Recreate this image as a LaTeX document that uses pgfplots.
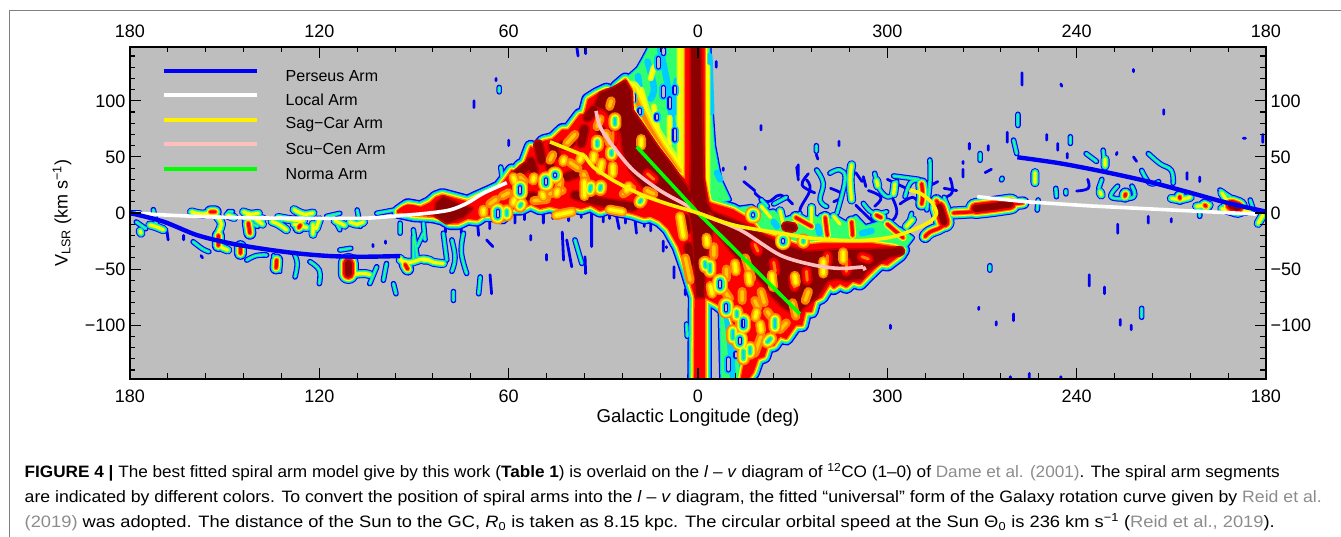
\documentclass[border=0pt]{standalone}
\usepackage{pgfplots}
\usepackage{pgfplotstable}
\usepackage{graphicx}
\usepackage{fontspec}
\setmainfont{Liberation Sans}
\pgfplotsset{compat=1.18}
\definecolor{bg}{RGB}{190,190,190}
\definecolor{cB}{RGB}{0,0,245}
\definecolor{cC}{RGB}{0,205,255}
\definecolor{cG}{RGB}{50,255,110}
\definecolor{cL}{RGB}{200,255,40}
\definecolor{cY}{RGB}{255,255,0}
\definecolor{cA}{RGB}{255,200,0}
\definecolor{cO}{RGB}{255,130,0}
\definecolor{cR}{RGB}{255,0,0}
\definecolor{cM}{RGB}{200,0,0}
\definecolor{cD}{RGB}{139,0,0}
\definecolor{cite}{RGB}{140,140,140}
% ---------- emission: main body (red zone outline)
\pgfplotstableread[row sep=\\]{x y\\
95 1\\ 92 7\\ 88 5\\ 85 9\\ 83 14\\ 81 16\\ 77 13\\ 73 10\\ 70 14\\ 66 19\\ 63 23\\ 60.5 32\\ 59 38\\ 58 35\\ 56.4 42\\ 55 44\\ 53 59\\ 51.5 56\\ 49 64\\ 46 66\\ 43 74\\ 41 74\\ 37.4 87.5\\ 36 88\\ 34.8 101\\ 32 106\\ 29 110\\ 27 107\\ 25.7 112.5\\ 23 119\\ 21 110\\ 21 92\\ 17.4 77\\ 13 59\\ 9 44\\ 6.7 35\\ 4 30\\ 4 150\\ -2 150\\ -2 30\\ -3.5 10\\ -4.3 8.6\\ -11 3\\ -16.5 -6\\ -19.6 -17\\ -26 -23\\ -32 -29\\ -40 -27\\ -47 -27\\ -54.5 -27\\ -62 -30\\ -65 -33\\ -64 -37.5\\ -60 -46\\ -58 -45\\ -56.6 -48\\ -53 -58\\ -51.3 -63\\ -49 -61\\ -47 -66\\ -45 -63\\ -43 -67\\ -41.8 -63\\ -39.2 -75\\ -37 -78\\ -36 -88\\ -34 -88\\ -33 -100\\ -31 -100\\ -28 -112\\ -26 -110\\ -24 -118\\ -22 -119\\ -21 -128\\ -19 -130\\ -17.5 -142\\ -15.5 -150\\ -13.5 -150\\ -15 -128\\ -13.3 -119\\ -12.3 -107\\ -10.1 -90\\ -6 -81\\ -2.2 -75.3\\ -2.2 -150\\ 1.2 -150\\ 1 -75\\ 2 -66\\ 3.6 -51\\ 6.2 -30\\ 9.4 -14\\ 12 -7\\ 15 -3\\ 17 -4\\ 20.5 -0.6\\ 23 1\\ 25.8 2.4\\ 28 5\\ 31 2\\ 34 6.8\\ 37 4\\ 40 6\\ 43.7 3.8\\ 47 6\\ 50 4\\ 53 8\\ 56 4\\ 60 4\\ 62 -4\\ 65 -2\\ 68 -2\\ 70 -6\\ 73 -5\\ 76 -9\\ 78.6 -9\\ 81 -5\\ 84 -3\\ 90 -2\\ 95 1\\
}\tBody
% green-level zones
\pgfplotstableread[row sep=\\]{x y\\
23 119\\ 19 129\\ 17 139\\ 15 150\\ 4 150\\ 4 30\\ 6.7 35\\ 13 59\\ 21 92\\ 23 119\\ nan nan\\
-2 150\\ -3.5 150\\ -4 100\\ -5 60\\ -7 30\\ -10 12\\ -4 8\\ -2 40\\ -2 150\\ nan nan\\
-3.5 -75\\ -7 -85\\ -7.5 -150\\ -16 -150\\ -13 -119\\ -12 -107\\ -10 -90\\ -6 -80\\ -3.5 -75\\ nan nan\\
-12 4\\ -17 6\\ -20 0\\ -24 2\\ -27 -6\\ -30 -3\\ -33 -8\\ -36 -2\\ -40 -7\\ -44 -4\\ -47 -9\\ -50 -3\\ -53 -12\\ -58 -8\\ -61 -15\\ -64 -14\\ -68 -22\\ -65 -33\\ -20 -25\\ -12 4\\
}\tWedge
% cyan patches in the green zone
\pgfplotstableread[row sep=\\]{x y\\
12 146\\ 10 120\\ 9 100\\ 8 78\\ nan nan\\ 16 135\\ 14 112\\ 15 102\\ nan nan\\ 19 122\\ 18.5 112\\ nan nan\\ -3.6 140\\ -4.2 90\\ nan nan\\ -6 36\\ -7 30\\ nan nan\\ 6.8 118\\ 7 90\\ nan nan\\ -9 -90\\ -10 -110\\ -11 -145\\ nan nan\\ -14 -135\\ -15 -146\\ nan nan\\ -24 -8\\ -25 -12\\ nan nan\\ -38 -12\\ -38.5 -18\\ nan nan\\ -52 -18\\ -55 -16\\ nan nan\\
}\tWcy
% dark-red areas
\pgfplotstableread[row sep=\\]{x y\\
26.8 111\\ 23.1 117\\ 21.3 108\\ 21 91.6\\ 17.3 76.8\\ 13 59\\ 8.9 44\\ 3.6 23\\ 0 2.4\\ 7.8 8.3\\ 12 12.8\\ 17.3 23.2\\ 21.5 38\\ 23.7 56\\ 24.2 70.8\\ 26.3 79.8\\ 29 91.7\\ 32.6 96\\ 31 106.5\\ 26.8 111\\ nan nan\\
2 150\\ 2 50\\ 2.5 -0.3\\ 1.5 -18\\ 1 -48\\ 0.4 -75\\ -1.7 -75\\ -2.2 -42\\ -4.3 -18\\ -6 -6\\ -2.7 8.6\\ -1.6 30\\ -0.6 150\\ 2 150\\ nan nan\\
-2.7 2.7\\ -13.3 -9\\ -26 -28\\ -34.4 -35\\ -45 -33\\ -55 -33\\ -61 -32\\ -62.4 -36\\ -57.7 -43.5\\ -53 -52\\ -52 -58\\ -47 -60\\ -44 -58\\ -41 -60\\ -37.6 -75\\ -33.4 -84\\ -31.3 -91\\ -27 -83.6\\ -23.9 -75\\ -20.7 -63\\ -16.5 -51\\ -11.2 -36\\ -7 -21\\ -3.8 -3\\ -2.7 2.7\\ nan nan\\
83.3 -1.8\\ 82.8 8.6\\ 80.7 14\\ 77.5 10\\ 74.3 5.6\\ 71.7 4\\ 74.3 -3\\ 79.6 -8.6\\ 83.3 -1.8\\
}\tDark
% dark streaks inside the body
\pgfplotstableread[row sep=\\]{x y\\
50.6 61\\ 49.5 47\\ nan nan\\ 41.6 32\\ 37.4 36.6\\ nan nan\\ 39 16\\ 31 10\\ 20.5 5.5\\ nan nan\\ 58 33\\ 54 42\\ nan nan\\ 45 52\\ 46 60\\ nan nan\\ 37 62\\ 36 75\\ nan nan\\ 35 85\\ 33 92\\ nan nan\\ 53 46\\ 52 38\\ nan nan\\ 46 38\\ 47 42\\ nan nan\\ 56 14\\ 52 15\\ nan nan\\ 43 60\\ 40 63\\ nan nan\\ 31 75\\ 30 68\\ nan nan\\
-28 -12\\ -30 -13\\ nan nan\\ -64 -34\\ -60 -36\\ nan nan\\ 4 -5\\ 3.5 -15\\ nan nan\\ 3 -30\\ 2.5 -45\\ nan nan\\
}\tStreak
% orange blotches
\pgfplotstableread[row sep=\\]{x y\\
46.9 47\\ 46 52\\ nan nan\\ 56.4 32\\ 55 28\\ nan nan\\ 52 11\\ 48 12\\ nan nan\\ 40.5 45\\ 38 40\\ nan nan\\ 43.7 29\\ 44 24\\ nan nan\\ 36.3 35\\ 35 25\\ nan nan\\ 32 77\\ 31 84\\ nan nan\\ 29 71\\ 28 62\\ nan nan\\ 28 95\\ 27.5 100\\ nan nan\\ 41.6 62\\ 39 70\\ nan nan\\ 47 17\\ 43 20\\ nan nan\\ 23.7 17\\ 21 22\\ nan nan\\ 16.2 20\\ 14 17\\ nan nan\\ 62 15\\ 60 18\\ nan nan\\ 66 8\\ 64 12\\ nan nan\\
-5 -30\\ -5 -38\\ nan nan\\ -9 -50\\ -9 -58\\ nan nan\\ -14 -70\\ -14 -78\\ nan nan\\ -18 -78\\ -19 -84\\ nan nan\\ -22 -88\\ -23 -92\\ nan nan\\ -28 -98\\ -26 -104\\ nan nan\\ -15 -40\\ -17 -58\\ nan nan\\ -20 -70\\ -21 -80\\ nan nan\\ -30 -80\\ -31 -92\\ nan nan\\ -8 -68\\ -10 -76\\ nan nan\\ -20 -110\\ -18 -125\\ nan nan\\ -35 -70\\ -34 -78\\ nan nan\\ 4 -40\\ 2.5 -60\\ nan nan\\
}\tOrg
% red blotches inside the dark area
\pgfplotstableread[row sep=\\]{x y\\
-30.2 -58\\ -30.6 -66\\ nan nan\\ -34.4 -52\\ -34.6 -60\\ nan nan\\ -24 -44\\ -24.5 -52\\ nan nan\\ -47 -44\\ -47 -52\\ nan nan\\ -52 -39\\ -54 -41\\ nan nan\\ -41 -38\\ -41 -44\\ nan nan\\ -18 -28\\ -19 -34\\ nan nan\\ 27 64\\ 27 72\\ nan nan\\ 16 35\\ 14 30\\ nan nan\\
}\tRedsp
% ridges, by peak level
\pgfplotstableread[row sep=\\]{x y\\
-88 4\\ -93 5.6\\ -99 8\\ nan nan\\ -76.5 5\\ -78 -8\\ nan nan\\ 110.8 -45\\ 110.8 -54\\ nan nan\\ -169 7\\ -171 5\\
}\tTfour
\pgfplotstableread[row sep=\\]{x y\\
-30.2 -15\\ -30.5 -10\\ nan nan\\ -40.3 -4\\ -41 -20\\ nan nan\\ -48.7 -8\\ -49 -20\\ nan nan\\ -56.6 -2\\ -58 -4\\ nan nan\\
-70.9 26\\ -71.2 16\\ -70.9 8\\ nan nan\\ -75.6 11\\ -78 -9\\ -73.5 -17\\ -72 -21\\ nan nan\\ -81 0\\ -87 1\\ nan nan\\ -99 8\\ -103 9\\ nan nan\\
154.5 1\\ 153 1\\ nan nan\\ 152 -20\\ 152 -29\\ nan nan\\ 145 -30\\ 145 -36\\ nan nan\\ 142.5 -9\\ 142 -18\\ nan nan\\ 133.5 -42\\ 133.7 -49\\ nan nan\\
126 -11\\ 126.5 -13\\ nan nan\\ 110.3 -42\\ 110.8 -56\\ nan nan\\ 95 1\\ 92 6\\ 88 4\\ nan nan\\ -135.3 15\\ -135.5 17\\ nan nan\\ -152.7 13\\ -152.7 14.5\\ nan nan\\
-168 7\\ -172 4\\ nan nan\\ -160.6 7\\ -161 6\\ nan nan\\ 92.8 -46\\ 92 -50\\ nan nan\\ -31 -4\\ -36 -12\\ nan nan\\ -60 -10\\ -65 -22\\ nan nan\\
}\tTthree
\pgfplotstableread[row sep=\\]{x y\\
173.7 -10.7\\ 172 -12\\ 169.4 -15\\ nan nan\\ 176.8 -16\\ 176.5 -18\\ nan nan\\ 160.5 1\\ 157 -1\\ 153.6 1\\ nan nan\\ 152.5 -3\\ 151 -10\\ 152 -18\\ 152 -28\\ 149 -33\\ nan nan\\
144 1\\ 142 -1\\ 139.3 -0.3\\ nan nan\\ 135 -7.7\\ 133 -10\\ 130.4 -15\\ nan nan\\ 128 3\\ 125 -1\\ 122 0\\ nan nan\\ 128 -10\\ 124 -13\\ nan nan\\ 122 -10\\ 122 -19\\ nan nan\\ 110.3 -8\\ 108 -10\\ 106 -8\\ nan nan\\
133 -4\\ 129 -6\\ 125 -7\\ nan nan\\ 120 -6\\ 121 -14\\ nan nan\\ 115 -7\\ 112 -11\\ nan nan\\ 143 -3\\ 140 -5\\ 138 -5\\ nan nan\\ 149 -2\\ 147 -4\\ nan nan\\
110 -55\\ 106 -54\\ 104 -55\\ nan nan\\ 94.4 -40.5\\ 91.8 -51\\ nan nan\\ 87 -42\\ 85 -42\\ nan nan\\ 94.4 -42\\ 91.2 -44\\ 87 -41\\ 83.8 -44\\ 80.7 -45\\ nan nan\\
-48.7 43\\ -48.2 30\\ -48.7 11.6\\ nan nan\\ -56.6 29\\ -57 24\\ nan nan\\ -62.4 26\\ -62 17\\ nan nan\\ -106.8 36\\ -106.8 27\\ nan nan\\ -127.4 19\\ -127.8 16\\ nan nan\\ -129 48\\ -129 42\\ nan nan\\
-150 13\\ -153 12\\ -156 14\\ nan nan\\ -158 6\\ -162 7\\ nan nan\\ -166 18\\ -167.5 11.6\\ nan nan\\ -179 -2\\ -177.5 -9.3\\ nan nan\\ -166 4\\ -170 1\\ -175 2\\ nan nan\\ 92 3\\ 86 6\\ nan nan\\ 138 -10\\ 140 -6\\ nan nan\\
-43 -3\\ -45 -10\\ nan nan\\ -66 -12\\ -68 -6\\ nan nan\\ -20 6\\ -23 -4\\ nan nan\\ -26 2\\ -27 -10\\ nan nan\\ -36 5\\ -36 -8\\ nan nan\\
}\tTtwo
\pgfplotstableread[row sep=\\]{x y\\
180 0\\ 176.8 0\\ nan nan\\ 172.6 3\\ 171.5 -12\\ nan nan\\ 178 -8\\ 175 -14\\ nan nan\\ 160 -25.6\\ 157 -32\\ 155 -34.5\\ nan nan\\ 148.8 1.2\\ 147.5 1.2\\ nan nan\\ 144 -5\\ 141 -10\\ 139.5 -12\\ nan nan\\
143 -42\\ 140 -38\\ 136.7 -37.5\\ nan nan\\ 134.5 -38\\ 132.5 -52\\ nan nan\\ 128 -36\\ 127 -45\\ 127.7 -57\\ nan nan\\ 123 -43.4\\ 120 -51\\ 120 -63\\ nan nan\\ 117.7 -3\\ 113.5 -0.3\\ nan nan\\ 115.6 -3\\ 113.5 -15\\ nan nan\\
108 2.7\\ 107 -12\\ nan nan\\ 113.5 -33\\ 110 -31.5\\ nan nan\\ 98.7 -45\\ 99.7 -60\\ nan nan\\ 96.5 -63\\ 95.7 -72\\ nan nan\\ 101.8 -48\\ 104 -63\\ nan nan\\ 90.2 -21\\ 90.2 -42\\ nan nan\\ 94.4 -9\\ 94.4 -18\\ nan nan\\
87 -9\\ 86.5 -24\\ nan nan\\ 101.8 -0.3\\ 95.5 3\\ nan nan\\ 90.2 -15\\ 89 -39\\ nan nan\\ 87 -18\\ 89 -30\\ nan nan\\ 80.7 -18\\ 79.6 -42\\ nan nan\\ 78 -24\\ 77 -40\\ 78 -52\\ nan nan\\ 77.5 -70\\ 77.5 -78\\ nan nan\\ 74.3 -18\\ 75 -35\\ 73.3 -54\\ nan nan\\ 69 -57\\ 69.5 -72\\ nan nan\\
39 -24\\ 36.8 -45\\ nan nan\\ 62.5 41\\ 62 29.5\\ nan nan\\ 63 112\\ 63 108\\ nan nan\\ -24 8\\ -28 14\\ nan nan\\ -20 12\\ -22 6\\ nan nan\\
-37.6 38.4\\ -39.7 26.5\\ -38.7 11.6\\ -40.8 5.7\\ nan nan\\ -41.8 35.4\\ -45 38.4\\ -46.6 29.5\\ -44 -0.3\\ nan nan\\ -56 35.4\\ -57.7 20.5\\ -60.9 14.6\\ -63 28\\ nan nan\\ -65.6 14.6\\ -67.2 26.5\\ -69.3 29.5\\ nan nan\\ -67.7 -0.3\\ -66.1 -15\\ nan nan\\ -73.5 47.3\\ -73.5 26.5\\ -72.5 2.7\\ nan nan\\ -78 14\\ -79.5 4\\ nan nan\\ -52.4 8.6\\ -55.6 -0.3\\ -59.8 1.2\\ nan nan\\ -26.5 -0.3\\ -29.2 -12\\ -32.3 -0.3\\ nan nan\\ -39 -2\\ -36.5 -12\\ nan nan\\
-89.4 53\\ -89.4 47\\ nan nan\\ -96.2 29.5\\ -96.4 31\\ nan nan\\ -100 65\\ -101 53\\ nan nan\\ -107.8 11.6\\ -107.5 2.6\\ nan nan\\ -113.4 22\\ -113.6 14.5\\ nan nan\\ -116.6 17\\ -116.6 20\\ nan nan\\ -127 22\\ -128 30\\ nan nan\\ -133 24\\ -131 14\\ -138 14\\ -137.5 24\\ nan nan\\ -123 53\\ -126.3 46\\ nan nan\\ -128.4 56\\ -129 40\\ nan nan\\ -118 68\\ -118 62\\ nan nan\\ -140.6 38\\ -143.2 26.5\\ -146 28\\ nan nan\\ -142.7 53\\ -146.4 44\\ -150 38\\ -150.6 26.5\\ nan nan\\ -159 4\\ -159 -3\\ nan nan\\ -165.4 20.5\\ -170 12\\ nan nan\\ -175 11.6\\ -176 3\\ nan nan\\ -101.4 88\\ -101.4 78\\ nan nan\\ -92.5 -47\\ -92.5 -51\\ nan nan\\ -140.6 -85\\ -140.6 -93\\ nan nan\\ -37.5 60\\ -37.5 55\\ nan nan\\ 3.6 -99\\ 3.4 -110\\ nan nan\\ -70 30\\ -62 33\\ nan nan\\
}\tTone
\pgfplotstableread[row sep=\\]{x y\\
168.4 -14\\ 167.9 -24\\ nan nan\\ 163 -20\\ 163 -24\\ nan nan\\ 157 -40\\ 157.5 -38\\ nan nan\\ 99 -25\\ 99 -27\\ nan nan\\ 103 -28\\ 103 -30\\ nan nan\\ 43 -17\\ 42.6 -42\\ nan nan\\ 41.6 -24\\ 40 -48\\ nan nan\\ 35.8 -39\\ 35.6 -54\\ nan nan\\ 33.7 -0.3\\ 33.7 -30\\ nan nan\\ 53 -20\\ 53 -24\\ nan nan\\ 48 -37\\ 48 -42\\ nan nan\\ 65.9 -55\\ 65.4 -72\\ nan nan\\ 70 -5\\ 69.5 -20\\ nan nan\\ 67 -24\\ 65 -30\\ nan nan\\ 38.4 148\\ 38 140\\ nan nan\\ 35.7 148\\ 35.6 142\\ nan nan\\ 71 100\\ 71 94\\ nan nan\\ 60 65\\ 60 60\\ nan nan\\ 64 120\\ 64 118\\ nan nan\\
58 2\\ 58 -9\\ nan nan\\ 55 2\\ 55 -6\\ nan nan\\ 49 2\\ 49 -9\\ nan nan\\ 46 2\\ 46 -5\\ nan nan\\ 41 2\\ 41 -7\\ nan nan\\ 37 2\\ 37 -4\\ nan nan\\ 30 0\\ 30 -8\\ nan nan\\ 28 2\\ 28 -5\\ nan nan\\ 23 -1\\ 23 -9\\ nan nan\\ 17 -5\\ 17 -12\\ nan nan\\ 15 -6\\ 15 -16\\ nan nan\\ 75 -10\\ 75 -18\\ nan nan\\ 80 -8\\ 80 -17\\ nan nan\\ 66 -6\\ 66 -14\\ nan nan\\
-35 35\\ -33 25\\ -37 18\\ nan nan\\ -42 22\\ -46 16\\ -43 10\\ nan nan\\ -50 36\\ -52 28\\ nan nan\\ -54 20\\ -58 14\\ -56 6\\ nan nan\\ -60 30\\ -66 22\\ nan nan\\ -64 8\\ -68 14\\ -70 8\\ nan nan\\ -72 22\\ -76 28\\ nan nan\\ -78 22\\ -82 20\\ nan nan\\
7.6 -48\\ 7.6 -58\\ nan nan\\ 4 -68\\ 4 -73\\ nan nan\\ 11 -25\\ 11 -34\\ nan nan\\ 20 -4\\ 19.5 -18\\ nan nan\\ 26 0\\ 25 -14\\ nan nan\\ 10 -30\\ 10 -31\\ nan nan\\ -5.8 135\\ -5.8 130\\ nan nan\\ -20 78\\ -20 74\\ nan nan\\ -15 41\\ -15 39\\ nan nan\\ -31.3 41\\ -31.8 29.5\\ nan nan\\ -34.4 29.5\\ -35.5 20.5\\ -32.3 2.7\\ -33.4 -6\\ nan nan\\ -52.4 32.4\\ -53.2 23.5\\ nan nan\\ -61.4 14.6\\ -63 -0.3\\ -59.8 -12\\ -57.7 -18\\ nan nan\\ -79.9 31\\ -80.4 17.6\\ -75.6 11.6\\ nan nan\\ -50 7\\ -54 -4\\ -57 -12\\ nan nan\\ -18 18\\ -22 10\\ -26 16\\ -30 8\\ nan nan\\ -44.7 64\\ -44.7 60\\ nan nan\\ -37.5 52\\ -38 48\\ nan nan\\ -31.8 43\\ -31.8 33\\ nan nan\\ -14.5 28\\ -18 20\\ nan nan\\ -8 40\\ -8 38\\ nan nan\\
-84 46\\ -84 44\\ nan nan\\ -86 62\\ -86 57\\ nan nan\\ -92 60\\ -92 56\\ nan nan\\ -98 63\\ -98 72\\ nan nan\\ -102.7 125\\ -102.7 114\\ nan nan\\ -115 115\\ -115.3 113\\ nan nan\\ -138 128\\ -138 126\\ nan nan\\ -147.6 92\\ -147.6 88\\ nan nan\\ -110.5 70\\ -110.5 65\\ nan nan\\ -114 62\\ -114 56\\ nan nan\\ -117 53\\ -117 49\\ nan nan\\ -120 19.6\\ -123.7 22\\ -123.5 30\\ nan nan\\ -132.6 52\\ -132.8 54\\ nan nan\\ -172.8 66.6\\ -173.5 66.6\\ nan nan\\ -179 70\\ -179 63\\ nan nan\\ -84 39\\ -84 32\\ nan nan\\ -91 36\\ -93 39\\ nan nan\\ -138 50\\ -139 46\\ nan nan\\ -155 36\\ -155 30\\ nan nan\\ -159 32\\ -159 28\\ nan nan\\ -142.7 -3\\ -142.7 -9\\ nan nan\\ -150 -5\\ -150 -8\\ nan nan\\ -133 -10\\ -133 -18\\ nan nan\\ -89 -84\\ -89 -86\\ nan nan\\ -94.5 -97\\ -94.5 -100\\ nan nan\\ -100 -90\\ -100 -96\\ nan nan\\ -133.8 -95\\ -133.8 -100\\ nan nan\\ -124 -55\\ -124 -65\\ nan nan\\ -128.8 -66\\ -128.8 -72\\ nan nan\\ -61 -100\\ -61 -103\\ nan nan\\ -137.3 -100\\ -137.3 -104\\ nan nan\\ -115 -146\\ -115 -148\\ nan nan\\ -105 -143\\ -105 -148\\ nan nan\\ -99 -146\\ -99 -148\\ nan nan\\
}\tTzero
% low spots inside the body
\pgfplotstableread[row sep=\\]{x y\\
42.7 45.5\\ 42.5 48\\ nan nan\\ 33.2 47\\ 33 52\\ nan nan\\ 37.4 47\\ 37 50\\ nan nan\\ 52.2 29\\ 52 32\\ nan nan\\ 44.8 17\\ 44.5 20\\ nan nan\\ 49 14.3\\ 49.3 17\\ nan nan\\ 58.5 32\\ 58 28\\ nan nan\\ 31 38\\ 30.5 45\\ nan nan\\ 22.6 20\\ 22 24\\ nan nan\\ 68 -0.3\\ 68 3\\ nan nan\\ 58.5 8.6\\ 58.2 12\\ nan nan\\ 5.7 -3\\ 4.6 -21\\ nan nan\\ -2.7 -22\\ -2.9 -28\\ nan nan\\ -11.7 -45\\ -12 -52\\ nan nan\\ -16 -55\\ -16.3 -62\\ nan nan\\ -23.4 -55\\ -23.8 -66\\ nan nan\\ -30.7 -56\\ -31 -62\\ nan nan\\ -19.7 -99\\ -20 -105\\ nan nan\\ -18.6 -88\\ -18.2 -93\\ nan nan\\ -39.7 -43\\ -39.7 -54\\ nan nan\\ -46 -35\\ -46 -42\\ nan nan\\ 45 -2\\ 40 1\\ nan nan\\ 28 3\\ 24 1\\ nan nan\\ -4 -65\\ -4.5 -72\\ nan nan\\ 18 60\\ 18 66\\ nan nan\\ 36 15\\ 36 28\\ nan nan\\ 27 35\\ 27 42\\ nan nan\\
}\tSone
\pgfplotstableread[row sep=\\]{x y\\
34.2 20\\ 34 24\\ nan nan\\ 31 21\\ 30.8 24\\ nan nan\\ 18.4 9.8\\ 18 11.5\\ nan nan\\ 56.4 6\\ 56 8\\ nan nan\\ 60.6 -1.8\\ 60.6 2\\ nan nan\\ 31.9 60\\ 31.9 64\\ nan nan\\ 26.3 79\\ 26.3 84\\ nan nan\\ -2.2 -44\\ -2.4 -48\\ nan nan\\ -3.8 -46\\ -3.8 -52\\ nan nan\\ -12.3 -88\\ -12.3 -92\\ nan nan\\ -24.4 -95\\ -24.4 -102\\ nan nan\\ -16.5 -120\\ -16.5 -125\\ nan nan\\ -14.4 -123\\ -14.4 -130\\ nan nan\\ -33.4 -26\\ -33.4 -24\\ nan nan\\ -11 -105\\ -11 -112\\ nan nan\\ -22 -115\\ -23 -112\\ nan nan\\ 27.4 52\\ 27.4 55\\ nan nan\\
}\tStwo
\pgfplotstableread[row sep=\\]{x y\\
48.2 26\\ 48.2 30\\ nan nan\\ 45.3 33\\ 45.3 34.5\\ nan nan\\ 56.4 18\\ 56.4 23\\ nan nan\\ 63.5 -3\\ 63.5 2\\ nan nan\\ -7 -61\\ -7 -66\\ nan nan\\ -9 -82\\ -9 -87\\ nan nan\\ -14.4 -96\\ -14.4 -101\\ nan nan\\ -13.3 -112\\ -13.3 -116\\ nan nan\\ -27 -26\\ -27 -24\\ nan nan\\ -17.5 -1\\ -17.5 -2.5\\ nan nan\\
}\tSthree
% structure of the green zone
\pgfplotstableread[row sep=\\]{x y\\
5.8 150\\ 5.8 40\\ nan nan\\ -3 130\\ -3 20\\ nan nan\\ 14 95\\ 12 60\\ nan nan\\ 18 110\\ 16.5 95\\ nan nan\\ 14 130\\ 15 120\\ nan nan\\ 9 62\\ 9 85\\ nan nan\\
}\tWyel
\pgfplotstableread[row sep=\\]{x y\\
21 110\\ 17 85\\ 13 65\\ 9 48\\ 6 36\\
}\tWband
\pgfplotstableread[row sep=\\]{x y\\
20.5 100\\ 20.5 105\\ nan nan\\ 12.6 130\\ 12.6 138\\ nan nan\\ 11 104\\ 11 112\\ nan nan\\ 8.9 94\\ 8.9 102\\ nan nan\\ 7.3 107\\ 7.3 112\\ nan nan\\ 7.3 65\\ 7.3 74\\ nan nan\\ 18.4 89\\ 18.4 92\\ nan nan\\ 13 84\\ 13 87\\ nan nan\\ 11 146\\ 11 142\\ nan nan\\ -9.6 -130\\ -9.6 -140\\ nan nan\\ -12 -125\\ -12 -128\\ nan nan\\
}\tWhole
\newcommand\lay[3]{\addplot[no marks,forget plot,draw=#2,line width=#3,line cap=round,line join=round,smooth,tension=0.7] table[x=x,y=y]{#1};}
\newcommand\poly[3]{\addplot[no marks,forget plot,draw=#2,fill=#2,line width=#3,line cap=round,line join=round] table[x=x,y=y]{#1};}
\begin{document}
\begin{tikzpicture}
\useasboundingbox (0pt,0pt) rectangle (1341pt,537pt);
\draw[color=gray,line width=1pt] (9.5pt,0pt)--(9.5pt,526.5pt)--(1341pt,526.5pt);
\pgfplotsset{lv/.style={
  scale only axis,width=1136pt,height=332pt,at={(130pt,158pt)},anchor=south west,
  xmin=-180,xmax=180,ymin=-148,ymax=148,x dir=reverse,
  xtick={-180,-120,-60,0,60,120,180},
  xticklabels={180,240,300,0,60,120,180},
  ytick={-100,-50,0,50,100},
  yticklabels={−100,−50,0,50,100},
  minor x tick num=4,
  minor ytick={-140,-130,-120,-110,-90,-80,-70,-60,-40,-30,-20,-10,10,20,30,40,60,70,80,90,110,120,130,140},
  tick align=inside,
  major tick length=11pt,minor tick length=5.5pt,
  tick style={black,line width=1.1pt},
  axis line style={line width=1.7pt},
  tick label style={font=\fontsize{18}{20}\selectfont},
}}
\begin{axis}[lv,unbounded coords=jump,axis on top,
  axis background/.style={fill=bg},
  xticklabel pos=bottom,yticklabel pos=left,
  xticklabel style={yshift=-7pt},yticklabel style={xshift=-1pt},
  xlabel={\fontsize{18.6}{20}\selectfont Galactic Longitude (deg)},
  ylabel={\fontsize{18}{20}\selectfont V\textsubscript{LSR} (km s\textsuperscript{−1})},
  xlabel style={at={(axis description cs:0.5,0)},anchor=center,yshift=-39pt},
  ylabel style={at={(axis description cs:0,0.5)},anchor=center,yshift=68pt},
]
% blue level
\lay{\tTzero}{cB}{2.8}
\lay{\tTone}{cB}{5.6}
\lay{\tTtwo}{cB}{9}
\lay{\tTthree}{cB}{13}
\lay{\tTfour}{cB}{21}
\poly{\tWedge}{cB}{5}
\poly{\tBody}{cB}{14}
% cyan level
\lay{\tTone}{cC}{3.5}
\lay{\tTtwo}{cC}{7.2}
\lay{\tTthree}{cC}{11}
\lay{\tTfour}{cC}{19}
\poly{\tWedge}{cC}{2.5}
\poly{\tBody}{cC}{11.2}
% green level
\lay{\tTone}{cG}{1.4}
\lay{\tTtwo}{cG}{5.4}
\lay{\tTthree}{cG}{9}
\lay{\tTfour}{cG}{17}
\poly{\tWedge}{cG}{0.3}
\poly{\tBody}{cG}{8.6}
% inside the green zones
\lay{\tWcy}{cC}{6.5}
\lay{\tWyel}{cL}{6}
\lay{\tWband}{cL}{18}
\lay{\tWyel}{cY}{3.5}
\lay{\tWband}{cY}{13}
\lay{\tWband}{cA}{8}
\lay{\tWband}{cO}{4}
\lay{\tWhole}{cC}{8}
\lay{\tWhole}{cB}{5}
\lay{\tWhole}{bg}{2.6}
% yellow level
\lay{\tTtwo}{cY}{3.2}
\lay{\tTthree}{cY}{7}
\lay{\tTfour}{cY}{15}
\poly{\tBody}{cY}{6}
% orange level
\lay{\tTthree}{cO}{5}
\lay{\tTfour}{cO}{13}
\poly{\tBody}{cO}{3.4}
% red level
\lay{\tTthree}{cR}{3.2}
\lay{\tTfour}{cR}{11}
\poly{\tBody}{cR}{0.5}
% dark-red level
\poly{\tDark}{cM}{4.5}
\lay{\tStreak}{cM}{11}
\lay{\tTfour}{cD}{7}
\poly{\tDark}{cD}{0.5}
\lay{\tStreak}{cD}{7.5}
\lay{\tRedsp}{cM}{11}
\lay{\tRedsp}{cR}{8}
\lay{\tRedsp}{cO}{3}
% low spots
\lay{\tOrg}{cO}{9}
\lay{\tOrg}{cA}{3.5}
\lay{\tSthree}{cO}{16}
\lay{\tStwo}{cO}{13}
\lay{\tSone}{cO}{10}
\lay{\tSthree}{cA}{13.5}
\lay{\tStwo}{cA}{10}
\lay{\tSone}{cA}{6.5}
\lay{\tSthree}{cY}{11.5}
\lay{\tStwo}{cY}{8}
\lay{\tSone}{cY}{3.2}
\lay{\tSthree}{cG}{9}
\lay{\tStwo}{cG}{5}
\lay{\tSthree}{cC}{6.5}
\lay{\tStwo}{cC}{2.2}
\lay{\tSthree}{cB}{4}
\lay{\tSthree}{bg}{1.8}
% spiral arms
\addplot[no marks,draw=white,line width=3.6pt,smooth] coordinates {(178,0) (169,-1.8) (148.3,-4) (127,-4.7) (106,-4.7) (95.5,-2.6) (86,-0.3) (78.6,2.7) (73.3,8.6) (68,17.6) (60.6,27)};
\addplot[no marks,draw=white,line width=3.6pt] coordinates {(-88.5,14.5) (-104,10) (-125,6.2) (-146.4,3.2) (-177,-1)};
\addplot[no marks,draw=cB,line width=4.4pt,smooth] coordinates {(180,0) (169.4,-7.7) (158.9,-19.6) (148.3,-27) (137.8,-32) (127,-36) (116.6,-38.4) (106,-39) (94.4,-38.4)};
\addplot[no marks,draw=cB,line width=4.4pt,smooth] coordinates {(-101.2,49.7) (-114.7,44.3) (-128.4,36.9) (-142,28.5) (-154.8,19) (-167.5,9.2) (-180,1.2)};
\addplot[no marks,draw=pink,line width=3.6pt,smooth,line join=round] coordinates {(32.3,91) (31,76.8) (26.8,59) (20.5,38) (12,20) (3.6,6.8) (0,0) (-13.3,-15) (-26,-37.5) (-36.6,-46.4) (-45,-49.4) (-52.4,-48)};
\addplot[no marks,draw=pink,line width=3.6pt] coordinates {(-52.4,-48) (-53,-51)};
\addplot[no marks,draw=green,line width=3.6pt] coordinates {(19.4,59) (0,0) (-32.3,-90)};
\addplot[no marks,draw=yellow,line width=3.6pt,line join=round] coordinates {(46.9,63.4) (35.8,50.9)};
\addplot[no marks,draw=yellow,line width=3.6pt,smooth,line join=round] coordinates {(35.8,50.9) (33.2,41) (26.8,29) (18.4,17) (9.9,8.3) (0,0) (-11.2,-10.7) (-26,-18) (-36.6,-22.6) (-50.3,-24.7) (-60.9,-21.7) (-68.2,-15) (-73.5,-7.7) (-75.6,-0.3) (-74,9.7) (-70.4,17.6) (-67,20.5)};
\end{axis}
\begin{axis}[lv,xticklabel pos=top,yticklabel pos=right,
  xticklabel style={yshift=6pt},yticklabel style={xshift=1pt}]
\end{axis}
% key
\foreach \yy/\cc/\lbl in {466/cB/Perseus Arm,442/white/Local Arm,417.3/yellow/Sag−Car Arm,393.3/pink/Scu−Cen Arm,368/green/Norma Arm}{
  \draw[color=\cc,line width=3.8pt] (164pt,\yy pt)--(257pt,\yy pt);
  \node[anchor=west,inner sep=0pt,font=\fontsize{16}{18}\selectfont] at (285.5pt,\yy pt-5pt) {\lbl};
}
% caption
\node[anchor=base west,inner sep=0pt] at (24.5pt,59pt) {\resizebox{1255pt}{\height}{\fontsize{16.5}{18}\selectfont\textbf{FIGURE 4 |} The best fitted spiral arm model give by this work (\textbf{Table 1}) is overlaid on the \textit{l} – \textit{v} diagram of \textsuperscript{12}CO (1–0) of {\color{cite}Dame et al. (2001)}. The spiral arm segments}};
\node[anchor=base west,inner sep=0pt] at (24.5pt,34pt) {\resizebox{1297pt}{\height}{\fontsize{16.5}{18}\selectfont are indicated by different colors. To convert the position of spiral arms into the \textit{l} – \textit{v} diagram, the fitted “universal” form of the Galaxy rotation curve given by {\color{cite}Reid et al.}}};
\node[anchor=base west,inner sep=0pt] at (24.5pt,9pt) {\resizebox{1250pt}{\height}{\fontsize{16.5}{18}\selectfont{\color{cite}(2019)} was adopted. The distance of the Sun to the GC, \textit{R}\textsubscript{0} is taken as 8.15 kpc. The circular orbital speed at the Sun Θ\textsubscript{0} is 236 km s\textsuperscript{−1} ({\color{cite}Reid et al., 2019}).}};
\end{tikzpicture}
\end{document}
